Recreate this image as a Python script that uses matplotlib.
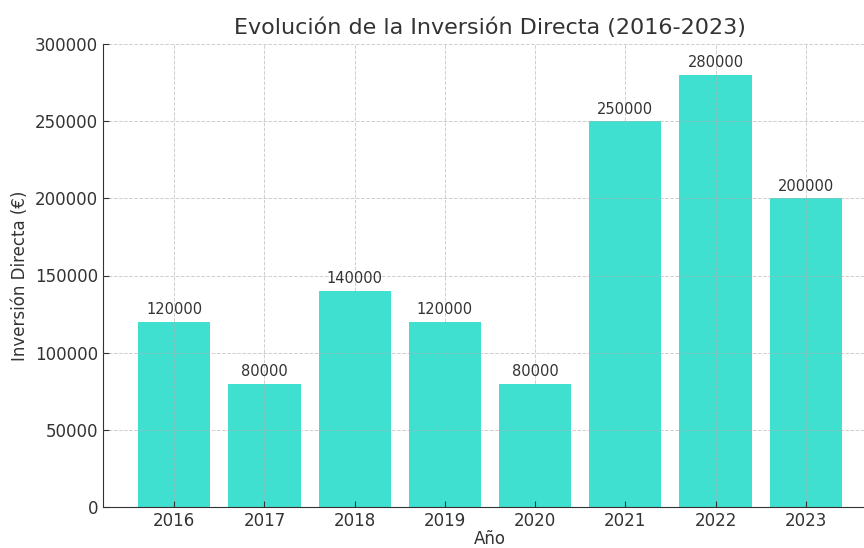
import numpy as np
import matplotlib.pyplot as plt

# Datos
anios = ['2016', '2017', '2018', '2019', '2020', '2021', '2022', '2023']
inversion = [120000, 80000, 140000, 120000, 80000, 250000, 280000, 200000]

txt = '#333333'

fig = plt.figure(figsize=(8.64, 5.48), dpi=100)
ax = fig.add_axes([103/864, 41/548, 774/864, 463/548])

x = np.arange(len(anios))
bars = ax.bar(x, inversion, width=0.8, color='#40E0D0')

for b, v in zip(bars, inversion):
    ax.text(b.get_x() + b.get_width()/2, v + 3000, str(v),
            ha='center', va='bottom', fontsize=10.5, color=txt)

ax.set_xticks(x)
ax.set_xticklabels(anios)
ax.set_ylim(0, 300000)
ax.set_xlim(-0.79, 7.79)

ax.set_title('Evolución de la Inversión Directa (2016-2023)', fontsize=16, color=txt, pad=7)
ax.set_xlabel('Año', fontsize=12, color=txt, labelpad=0)
ax.set_ylabel('Inversión Directa (€)', fontsize=12, color=txt, labelpad=4)

ax.tick_params(direction='in', labelsize=12, colors=txt, length=4)
ax.grid(True, linestyle='--', color='#b0b0b0', alpha=0.6, linewidth=0.7)
ax.set_axisbelow(False)
for s in ['top', 'right']:
    ax.spines[s].set_visible(False)
for s in ['left', 'bottom']:
    ax.spines[s].set_color(txt)

plt.savefig('out.png', dpi=100)
